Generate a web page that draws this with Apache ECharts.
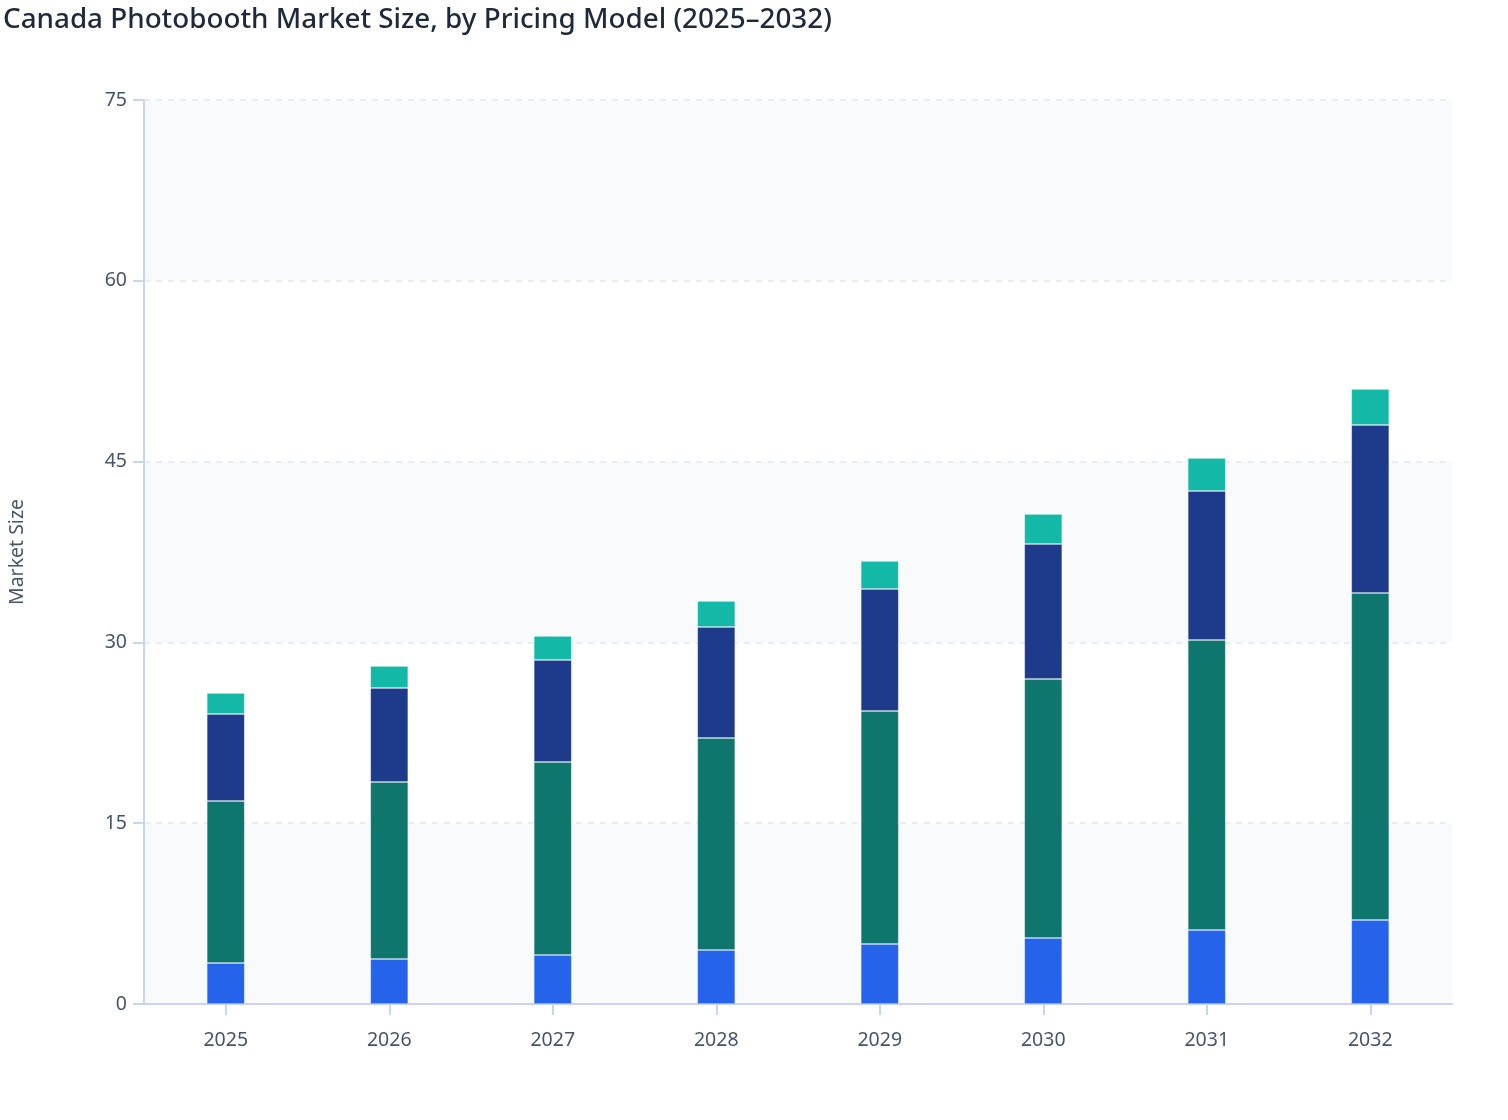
<!DOCTYPE html>
<html>
<head>
<meta charset="utf-8">
<script src="https://cdn.jsdelivr.net/npm/echarts@6/dist/echarts.min.js"></script>
<style>
  html, body { margin: 0; padding: 0; background: #ffffff; }
  #main { width: 1508px; height: 1120px; }
</style>
</head>
<body>
<div id="main"></div>
<script>
var years = ["2025", "2026", "2027", "2028", "2029", "2030", "2031", "2032"];
var yTicks = [0, 15, 30, 45, 60, 75];

// market size per pricing model
var payPerEvent = [3.4, 3.73, 4.07, 4.48, 4.98, 5.48, 6.14, 6.97];
var rentalPackage = [13.44, 14.69, 16.01, 17.59, 19.33, 21.48, 24.06, 27.13];
var subscription = [7.22, 7.8, 8.46, 9.21, 10.12, 11.2, 12.36, 13.94];
var other = [1.74, 1.82, 1.99, 2.16, 2.32, 2.49, 2.74, 2.98];

var seriesNames = ["Pay-per-Event", "Rental Package", "Subscription", "Other"];
var seriesColors = ["#2563eb", "#0f766e", "#1e3a8a", "#14b8a6"];
var seriesData = [payPerEvent, rentalPackage, subscription, other];

var chart = echarts.init(document.getElementById("main"));

var series = seriesData.map(function (d, i) {
    return {
        name: seriesNames[i],
        type: "bar",
        stack: "total",
        barWidth: 38,
        data: d,
        itemStyle: { color: seriesColors[i], borderColor: "rgba(255,255,255,0.15)", borderWidth: 1 }
    };
});

chart.setOption({
    animation: false,
    backgroundColor: "#ffffff",
    textStyle: { fontFamily: "Noto Sans" },
    title: {
        text: "Canada Photobooth Market Size, by Pricing Model (2025\u20132032)",
        left: -2,
        top: 1,
        textStyle: { fontFamily: "Noto Sans", fontSize: 27.8, fontWeight: 500, color: "#1e293b" }
    },
    legend: { show: false },
    grid: { left: 144, right: 56, top: 100, bottom: 116, containLabel: false, outerBoundsMode: "none" },
    xAxis: {
        type: "category",
        data: years,
        axisLine: { show: true, lineStyle: { color: "#c9d3f2", width: 2 } },
        axisTick: { show: true, alignWithLabel: true, length: 11, lineStyle: { color: "#c9d3f2", width: 2 } },
        axisLabel: { color: "#475569", fontSize: 19.5, margin: 26 }
    },
    yAxis: {
        type: "value",
        min: yTicks[0],
        max: yTicks[yTicks.length - 1],
        interval: 15,
        name: "Market Size",
        nameLocation: "middle",
        nameGap: 117,
        nameTextStyle: { color: "#475569", fontSize: 19.5 },
        axisLine: { show: true, lineStyle: { color: "#c9d3f2", width: 2 } },
        axisTick: { show: true, length: 11, lineStyle: { color: "#c9d3f2", width: 2 } },
        axisLabel: { color: "#475569", fontSize: 19.5, margin: 17 },
        splitLine: { show: true, lineStyle: { color: "#e2e8f0", type: [6, 6], width: 1.5 } },
        splitArea: { show: true, areaStyle: { color: ["#f8fafc", "#ffffff"] } }
    },
    series: series
});
</script>
</body>
</html>
